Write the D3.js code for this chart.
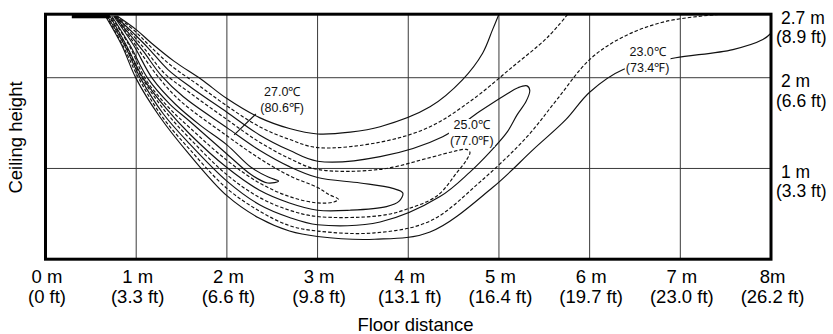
<!DOCTYPE html>
<html><head><meta charset="utf-8">
<script src="https://cdn.jsdelivr.net/npm/d3@7"></script>
<style>
html,body{margin:0;padding:0;background:#fff;}
svg{display:block;}
</style></head><body>
<svg id="chart" width="833" height="334"></svg>
<script>
// Axis ticks and their two-line labels (metres / feet)
const xTicks = [0, 1, 2, 3, 4, 5, 6, 7, 8];
const xTickMetres = ["0 m", "1 m", "2 m", "3 m", "4 m", "5 m", "6 m", "7 m", "8m"];
const xTickFeet = ["(0 ft)", "(3.3 ft)", "(6.6 ft)", "(9.8 ft)", "(13.1 ft)", "(16.4 ft)", "(19.7 ft)", "(23.0 ft)", "(26.2 ft)"];
const yTicks = [1, 2, 2.7];
const yTickMetres = ["1 m", "2 m", "2.7 m"];
const yTickFeet = ["(3.3 ft)", "(6.6 ft)", "(8.9 ft)"];
const xGrid = [1, 2, 3, 4, 5, 6, 7];
const yGrid = [1, 2];
const ceiling = 2.7;

// Outlet on the ceiling (floor distance span, m)
const outletSpan = [0.29, 0.71];
const outletDepth = 0.045;

// Isotherms [floor distance m, height m], outermost (A, 23.0 °C) to innermost (G, 27.0 °C).
// A and B reach the ceiling / wall, so they are split in an upper and a lower branch.
const isoA_upper = [[0.79,2.68],[1.00,2.53],[1.17,2.38],[1.42,2.18],[1.72,1.98],[2.00,1.77],[2.36,1.56],[2.69,1.44],[3.00,1.38],[3.36,1.40],[3.69,1.46],[4.24,1.68],[4.60,1.98],[4.82,2.27],[4.93,2.53],[5.00,2.70]];
const isoA_lower = [[0.66,2.68],[0.84,2.36],[1.00,1.99],[1.26,1.57],[1.59,1.15],[2.00,0.70],[2.36,0.45],[2.69,0.31],[3.00,0.25],[3.63,0.22],[4.24,0.30],[4.93,0.79],[5.38,1.21],[5.74,1.54],[6.00,1.84],[6.37,2.09],[6.67,2.16],[6.95,2.22],[7.58,2.31],[7.91,2.42],[8.00,2.49]];
const isoB_upper = [[0.78,2.68],[0.99,2.51],[1.15,2.35],[1.39,2.13],[1.67,1.93],[2.00,1.69],[2.36,1.46],[2.69,1.32],[3.00,1.23],[3.69,1.29],[4.24,1.46],[4.71,1.76],[5.15,2.12],[5.53,2.44],[5.76,2.70]];
const isoB_lower = [[0.67,2.68],[0.85,2.36],[1.03,1.99],[1.28,1.58],[1.59,1.21],[2.00,0.78],[2.36,0.53],[2.69,0.37],[3.00,0.31],[3.63,0.29],[4.24,0.42],[4.79,0.85],[5.31,1.35],[5.64,1.76],[6.00,2.20],[6.37,2.45],[6.84,2.62],[7.45,2.70]];
const isoC = [[0.77,2.68],[0.98,2.48],[1.13,2.33],[1.35,2.09],[1.61,1.89],[2.00,1.62],[2.36,1.37],[2.69,1.20],[3.00,1.08],[3.69,1.13],[4.38,1.35],[4.79,1.63],[5.07,1.81],[5.21,1.89],[5.31,1.91],[5.34,1.86],[5.30,1.74],[5.20,1.59],[5.09,1.40],[4.90,1.18],[4.68,0.96],[4.35,0.69],[3.69,0.41],[3.00,0.38],[2.69,0.46],[2.36,0.60],[2.00,0.86],[1.59,1.27],[1.30,1.60],[1.05,1.99],[0.87,2.36],[0.68,2.68]];
const isoD = [[0.77,2.68],[0.97,2.46],[1.10,2.31],[1.31,2.05],[1.57,1.85],[2.00,1.54],[2.36,1.29],[2.69,1.11],[3.00,0.99],[3.69,0.99],[4.24,1.12],[4.51,1.19],[4.64,1.21],[4.68,1.18],[4.64,1.09],[4.54,0.96],[4.32,0.70],[3.98,0.55],[3.69,0.48],[3.00,0.47],[2.69,0.54],[2.36,0.68],[2.00,0.93],[1.59,1.33],[1.32,1.63],[1.07,1.99],[0.88,2.36],[0.70,2.68]];
const isoE = [[0.76,2.68],[0.96,2.44],[1.08,2.29],[1.28,2.02],[1.52,1.79],[2.00,1.45],[2.36,1.20],[2.69,1.02],[3.00,0.90],[3.47,0.84],[3.83,0.78],[3.94,0.73],[3.90,0.64],[3.76,0.58],[3.36,0.54],[3.00,0.54],[2.69,0.62],[2.36,0.76],[2.00,1.01],[1.59,1.38],[1.34,1.65],[1.08,1.99],[0.89,2.36],[0.71,2.68]];
const isoF = [[0.76,2.68],[0.95,2.42],[1.06,2.26],[1.25,2.00],[1.48,1.75],[2.00,1.36],[2.36,1.11],[2.69,0.92],[3.00,0.79],[3.13,0.71],[3.23,0.66],[3.18,0.63],[3.00,0.62],[2.69,0.69],[2.36,0.84],[2.00,1.09],[1.59,1.45],[1.35,1.68],[1.10,1.99],[0.92,2.36],[0.72,2.68]];
const isoG = [[0.75,2.68],[0.97,2.36],[1.18,1.99],[1.43,1.71],[1.70,1.48],[2.00,1.26],[2.27,1.01],[2.47,0.90],[2.57,0.86],[2.45,0.84],[2.27,0.93],[2.00,1.16],[1.59,1.52],[1.37,1.71],[1.13,1.99],[0.93,2.36],[0.73,2.68]];

// Temperature labels (centre x, first baseline y, in m)
const tempLabels = [
  {c: "27.0℃", f: "(80.6℉)", at: [2.61, 1.80], mask: false},
  {c: "25.0℃", f: "(77.0℉)", at: [4.70, 1.435], mask: true},
  {c: "23.0℃", f: "(73.4℉)", at: [6.64, 2.24], mask: true}
];
const leader27 = [[2.32, 1.60], [2.08, 1.37]];

const svg = d3.select("#chart");
const x = d3.scaleLinear().domain([0, 8]).range([45.5, 771]);
const y = d3.scaleLinear().domain([0, ceiling]).range([259.2, 14.2]);

const axisFont = "'Liberation Sans', Arial, sans-serif";

// grid
const grid = svg.append("g").attr("stroke", "#3a3a3a").attr("stroke-width", 1);
grid.selectAll(".gx").data(xGrid).join("line")
  .attr("x1", d => x(d)).attr("x2", d => x(d)).attr("y1", y(0)).attr("y2", y(ceiling));
grid.selectAll(".gy").data(yGrid).join("line")
  .attr("y1", d => y(d)).attr("y2", d => y(d)).attr("x1", x(0)).attr("x2", x(8));

// isotherm lines
const line = d3.line().x(d => x(d[0])).y(d => y(d[1])).curve(d3.curveCatmullRom.alpha(0.5));
const isotherms = [
  {pts: isoA_upper, dashed: false}, {pts: isoA_lower, dashed: false},
  {pts: isoB_upper, dashed: true}, {pts: isoB_lower, dashed: true},
  {pts: isoC, dashed: false}, {pts: isoD, dashed: true},
  {pts: isoE, dashed: false}, {pts: isoF, dashed: true},
  {pts: isoG, dashed: false}
];
svg.append("g").selectAll("path").data(isotherms).join("path")
  .attr("d", d => line(d.pts))
  .attr("fill", "none")
  .attr("stroke", "#111")
  .attr("stroke-width", 1.15)
  .attr("stroke-dasharray", d => d.dashed ? "3.5,2" : null);

// outlet
svg.append("rect")
  .attr("x", x(outletSpan[0])).attr("width", x(outletSpan[1]) - x(outletSpan[0]))
  .attr("y", y(ceiling)).attr("height", y(ceiling - outletDepth) - y(ceiling))
  .attr("fill", "#000");

// frame
svg.append("rect")
  .attr("x", x(0)).attr("y", y(ceiling))
  .attr("width", x(8) - x(0)).attr("height", y(0) - y(ceiling))
  .attr("fill", "none").attr("stroke", "#000").attr("stroke-width", 3);

// bottom axis
const gx = svg.append("g").attr("transform", `translate(0,${y(0)})`)
  .call(d3.axisBottom(x).tickValues(xTicks).tickSize(0).tickFormat(() => ""));
gx.select(".domain").remove();
gx.selectAll(".tick text").each(function(d, i) {
  const t = d3.select(this).attr("dy", null).attr("y", null)
    .attr("fill", "#000").attr("font-family", axisFont).attr("font-size", 18.5)
    .attr("text-anchor", "middle");
  t.append("tspan").attr("x", 1).attr("y", 24).text(xTickMetres[i]);
  t.append("tspan").attr("x", 1).attr("y", 44).text(xTickFeet[i]);
});

// right axis
const gy = svg.append("g").attr("transform", `translate(${x(8)},0)`)
  .call(d3.axisRight(y).tickValues(yTicks).tickSize(0).tickFormat(() => ""));
gy.select(".domain").remove();
gy.selectAll(".tick text").each(function(d, i) {
  const t = d3.select(this).attr("dy", null).attr("x", null)
    .attr("fill", "#000").attr("font-family", axisFont).attr("font-size", 17.5)
    .attr("text-anchor", "start");
  t.append("tspan").attr("x", 10).attr("y", 9).text(yTickMetres[i]);
  t.append("tspan").attr("x", 5).attr("y", 28.5).text(yTickFeet[i]);
});

// axis titles
svg.append("text").attr("x", 415.5).attr("y", 331)
  .attr("text-anchor", "middle").attr("font-family", axisFont).attr("font-size", 18.5)
  .attr("fill", "#000").text("Floor distance");
svg.append("text").attr("transform", "translate(22,137.5) rotate(-90)")
  .attr("text-anchor", "middle").attr("font-family", axisFont).attr("font-size", 18.5)
  .attr("fill", "#000").text("Ceiling height");

// leader for the 27.0 °C label
svg.append("path").attr("d", d3.line().x(d => x(d[0])).y(d => y(d[1]))(leader27))
  .attr("stroke", "#111").attr("stroke-width", 1.1).attr("fill", "none");

// temperature labels
const labelFont = "'Liberation Sans', Arial, sans-serif";
tempLabels.forEach(l => {
  const g = svg.append("g");
  const bg = g.append("rect").attr("fill", "#fff");
  const lines = [l.c, l.f].map((s, k) => g.append("text")
    .attr("font-family", labelFont).attr("font-size", 12.5)
    .attr("fill", "#111").attr("text-anchor", "middle")
    .attr("x", x(l.at[0])).attr("y", y(l.at[1]) + k * 16).text(s));
  if (l.mask) {
    const b0 = lines[0].node().getBBox(), b1 = lines[1].node().getBBox();
    const x0 = Math.min(b0.x, b1.x) - 1, x1 = Math.max(b0.x + b0.width, b1.x + b1.width) + 1;
    bg.attr("x", x0).attr("y", b0.y + 1).attr("width", x1 - x0)
      .attr("height", b1.y + b1.height - b0.y - 2);
  } else {
    bg.remove();
  }
});
</script>
</body></html>
